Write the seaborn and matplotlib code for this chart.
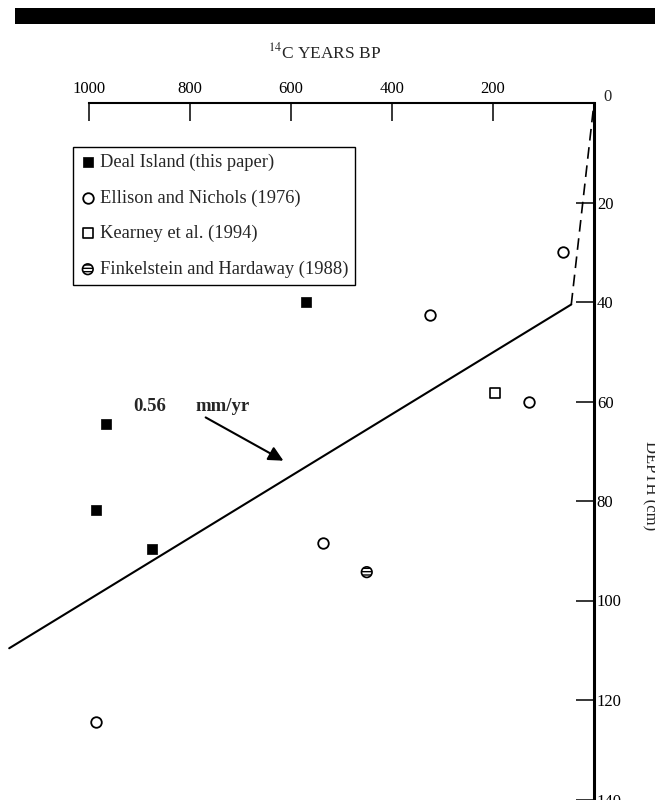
import matplotlib
matplotlib.use("Agg")
import matplotlib.pyplot as plt
from matplotlib.patches import Rectangle
import seaborn as sns
import pandas as pd

# ---- data (14C years BP, depth cm) ----
deal_years = [570, 967, 987, 875]
deal_depth = [40.0, 64.6, 81.8, 89.6]
ellison_years = [987, 537, 325, 128, 62]
ellison_depth = [124.5, 88.4, 42.6, 60.2, 29.9]
kearney_years = [196]
kearney_depth = [58.2]
fink_years = [450]
fink_depth = [94.3]

fit_years = [1158, 45]
fit_depth = [109.6, 40.5]
dash_years = [45, 0]
dash_depth = [40.5, 0]

x_ticks = [1000, 800, 600, 400, 200]
y_ticks = [0, 20, 40, 60, 80, 100, 120, 140]

labels = ["Deal Island (this paper)", "Ellison and Nichols (1976)",
          "Kearney et al. (1994)", "Finkelstein and Hardaway (1988)"]

sns.set_theme(style="white")
plt.rcParams["font.family"] = ["Liberation Serif", "DejaVu Serif"]
plt.rcParams["mathtext.fontset"] = "stix"

W, H = 655, 800
fig = plt.figure(figsize=(W / 100, H / 100), dpi=100)
fig.patch.set_facecolor("white")

# black bar at top
fig.add_artist(Rectangle((15 / W, 1 - 24 / H), (W - 15) / W, 16 / H,
                         transform=fig.transFigure, facecolor="black",
                         edgecolor="none"))

# axes: right spine at x=594px, top spine at y=103px
ax_left, ax_right = 0, 594
ax_top = 103
px_per_cm = 4.975
ymax = 142
ax_h = ymax * px_per_cm
ax = fig.add_axes([ax_left / W, 1 - (ax_top + ax_h) / H,
                   (ax_right - ax_left) / W, ax_h / H])
ax.set_facecolor("none")
ax.set_xlim(594 / 0.505, 0)
ax.set_ylim(ymax, 0)

df_deal = pd.DataFrame({"years": deal_years, "depth": deal_depth})
df_ell = pd.DataFrame({"years": ellison_years, "depth": ellison_depth})
df_kea = pd.DataFrame({"years": kearney_years, "depth": kearney_depth})
df_fin = pd.DataFrame({"years": fink_years, "depth": fink_depth})

sns.lineplot(x=fit_years, y=fit_depth, ax=ax, color="black", lw=1.5,
             sort=False, estimator=None)
ax.plot(dash_years, dash_depth, color="black", lw=1.2, dashes=(7, 4))

sns.scatterplot(data=df_deal, x="years", y="depth", ax=ax, marker="s",
                s=58, color="black", edgecolor="black", linewidth=0.5,
                label=labels[0], zorder=5)
sns.scatterplot(data=df_ell, x="years", y="depth", ax=ax, marker="o",
                s=58, facecolor="white", edgecolor="black", linewidth=1.3,
                label=labels[1], zorder=5)
sns.scatterplot(data=df_kea, x="years", y="depth", ax=ax, marker="s",
                s=52, facecolor="white", edgecolor="black", linewidth=1.2,
                label=labels[2], zorder=5)
sns.scatterplot(data=df_fin, x="years", y="depth", ax=ax, marker="o",
                s=58, facecolor="white", edgecolor="black", linewidth=1.2,
                hatch="-----", label=labels[3], zorder=5)

# annotation
ax.annotate("", xy=(615, 71.9), xytext=(769, 63.2),
            arrowprops=dict(arrowstyle="-|>", color="black", lw=1.5,
                            mutation_scale=22, shrinkA=0, shrinkB=0))
ax.text(879, 61.1, "0.56", fontsize=13.5, fontweight="bold",
        ha="center", va="center")
ax.text(736, 61.1, "mm/yr", fontsize=13.5, fontweight="bold",
        ha="center", va="center")

# spines & ticks
for s in ["left", "bottom"]:
    ax.spines[s].set_visible(False)
ax.spines["right"].set_visible(True)
ax.spines["right"].set_linewidth(2.2)
ax.spines["right"].set_color("black")
ax.spines["top"].set_visible(True)
ax.spines["top"].set_linewidth(1.5)
ax.spines["top"].set_color("black")
ax.spines["top"].set_bounds(0, 1000)

ax.xaxis.tick_top()
ax.yaxis.tick_right()
ax.set_xticks(x_ticks)
ax.set_xticklabels([str(v) for v in x_ticks])
ax.set_yticks(y_ticks)
ax.set_yticklabels([""] + [str(v) for v in y_ticks[1:]])
ax.tick_params(axis="x", direction="in", length=13, width=1.1,
               color="black", labelsize=12, pad=4, labelcolor="black")
ax.tick_params(axis="y", direction="in", length=13, width=1.1,
               color="black", labelsize=12, pad=2, labelcolor="black")
ax.set_xlabel("")
ax.set_ylabel("")
# the "0" label sits just above-right of the corner
fig.text(603 / W, 1 - 97 / H, "0", fontsize=12, ha="left", va="center")

# legend
leg = ax.legend(loc="upper left", bbox_to_anchor=(73 / W, 1 - 147 / H),
                bbox_transform=fig.transFigure, borderaxespad=0,
                frameon=True, fancybox=False, framealpha=1,
                edgecolor="black", fontsize=13.3, labelspacing=1.0,
                handletextpad=0.2, handlelength=0.9, borderpad=0.35,
                markerscale=1.0)
leg.get_frame().set_linewidth(1.0)

# titles
fig.text(325 / W, 1 - 52 / H, r"$^{14}$C YEARS BP", fontsize=12.5,
         ha="center", va="center")
fig.text(650 / W, 1 - 486 / H, "DEPTH (cm)", fontsize=12, rotation=270,
         ha="center", va="center")

fig.savefig("out.png", dpi=100)
